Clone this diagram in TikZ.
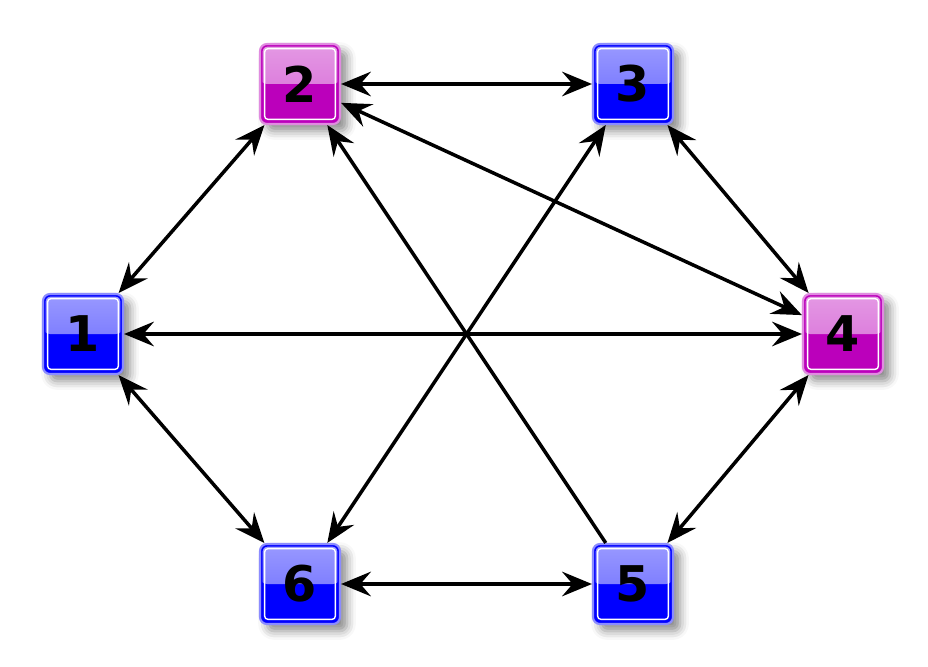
\documentclass[tikz,border=0pt]{standalone}
\usepackage{fontspec}
\setmainfont{DejaVu Sans}
\usepackage{tikz}
\usetikzlibrary{arrows.meta,shadows.blur}

\begin{document}
\begin{tikzpicture}[>={Stealth[length=17pt,width=14pt,inset=6pt]},
  box/.style={draw=#1!45!white,line width=1.2pt,rounded corners=4pt,fill=#1,
    minimum size=1.6cm,inner sep=0pt,font=\bfseries\fontsize{28}{28}\selectfont,
    blur shadow={shadow xshift=4pt,shadow yshift=-4pt,shadow opacity=45,shadow blur radius=5pt},
    path picture={
      \shade[top color=#1!40!white,bottom color=#1!60!white]
        (path picture bounding box.north west) rectangle (path picture bounding box.east);
      \draw[#1,line width=3pt](path picture bounding box.south west) rectangle (path picture bounding box.north east);
      \draw[white,line width=0.8pt,rounded corners=2pt]([shift={(2.6pt,2.6pt)}]path picture bounding box.south west) rectangle ([shift={(-2.6pt,-2.6pt)}]path picture bounding box.north east);
    }},
  link/.style={line width=2pt}]
\definecolor{nodeblue}{RGB}{0,0,255}
\definecolor{nodepink}{RGB}{187,0,187}
\useasboundingbox(0,0)rectangle(18.56,-13.34);
\node[box=nodeblue](n1)at(1.66,-6.68){1};
\node[box=nodepink](n2)at(6.0,-1.68){2};
\node[box=nodeblue](n3)at(12.66,-1.68){3};
\node[box=nodepink](n4)at(16.86,-6.68){4};
\node[box=nodeblue](n5)at(12.66,-11.68){5};
\node[box=nodeblue](n6)at(6.0,-11.68){6};
\draw[link,<->](n1)--(n2);
\draw[link,<->](n2)--(n3);
\draw[link,<->](n3)--(n4);
\draw[link,<->](n4)--(n5);
\draw[link,<->](n5)--(n6);
\draw[link,<->](n6)--(n1);
\draw[link,<->](n1)--(n4);
\draw[link,<->](n2)--(n4);
\draw[link,<->](n3)--(n6);
\draw[link,->](n5)--(n2);
\end{tikzpicture}
\end{document}
